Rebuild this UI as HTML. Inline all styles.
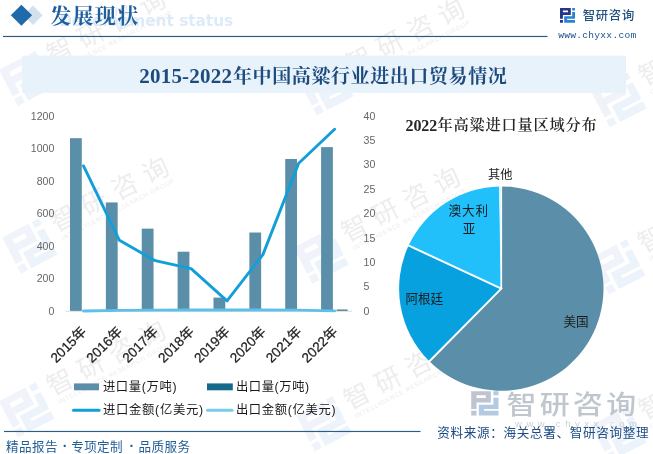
<!DOCTYPE html>
<html lang="zh-CN"><head><meta charset="utf-8"><title>2015-2022年中国高粱行业进出口贸易情况</title>
<style>
html,body{margin:0;padding:0;background:#fff;}
body{width:653px;height:454px;overflow:hidden;position:relative;}
svg{display:block;position:absolute;left:0;top:0;}
.sans{font-family:"Liberation Sans", "Noto Sans CJK SC", sans-serif;}
.serif{font-family:"Liberation Serif", "Noto Serif CJK SC", serif;}
.dj{font-family:"DejaVu Sans", "Liberation Sans", sans-serif;}
</style></head><body>
<svg width="653" height="454" viewBox="0 0 653 454" role="img" aria-label="2015-2022年中国高粱行业进出口贸易情况">
<rect x="0" y="0" width="653" height="454" fill="#ffffff"/>
<g transform="translate(60.0,50.5) rotate(-27.5)">
<g transform="translate(-63,-11) scale(2.75)" fill-rule="evenodd" opacity="1"><path d="M0 0H10.8V6.9H2.9V10.8H0Z M2.9 2.4V4.2H8V2.4Z M0 11.9H2.9V14.8H0Z" fill="#f0f3f9"/><path d="M12.2 0H15V2.4H12.2Z M12.2 4H15V10.8H7.1V11.9H15V14.8H4.2V8.2H12.2Z" fill="#ecf3fb"/></g>
<text class="sans" x="-13" y="9.3" font-size="26" fill="#ededf0" opacity="1" textLength="130" lengthAdjust="spacing">智研咨询</text>
<text class="sans" x="-10.6" y="19.5" font-size="6.3" fill="#ececef" opacity="1" textLength="126" lengthAdjust="spacing">INTELLIGENCE RESEARCH GROUP</text>
</g>
<g transform="translate(63.2,218.2) rotate(-27.5)">
<g transform="translate(-63,-11) scale(2.75)" fill-rule="evenodd" opacity="1"><path d="M0 0H10.8V6.9H2.9V10.8H0Z M2.9 2.4V4.2H8V2.4Z M0 11.9H2.9V14.8H0Z" fill="#f0f3f9"/><path d="M12.2 0H15V2.4H12.2Z M12.2 4H15V10.8H7.1V11.9H15V14.8H4.2V8.2H12.2Z" fill="#ecf3fb"/></g>
<text class="sans" x="-13" y="9.3" font-size="26" fill="#ededf0" opacity="1" textLength="130" lengthAdjust="spacing">智研咨询</text>
<text class="sans" x="-10.6" y="19.5" font-size="6.3" fill="#ececef" opacity="1" textLength="126" lengthAdjust="spacing">INTELLIGENCE RESEARCH GROUP</text>
</g>
<g transform="translate(60.0,382.0) rotate(-27.5)">
<g transform="translate(-63,-11) scale(2.75)" fill-rule="evenodd" opacity="1"><path d="M0 0H10.8V6.9H2.9V10.8H0Z M2.9 2.4V4.2H8V2.4Z M0 11.9H2.9V14.8H0Z" fill="#f0f3f9"/><path d="M12.2 0H15V2.4H12.2Z M12.2 4H15V10.8H7.1V11.9H15V14.8H4.2V8.2H12.2Z" fill="#ecf3fb"/></g>
<text class="sans" x="-13" y="9.3" font-size="26" fill="#ededf0" opacity="1" textLength="130" lengthAdjust="spacing">智研咨询</text>
<text class="sans" x="-10.6" y="19.5" font-size="6.3" fill="#ececef" opacity="1" textLength="126" lengthAdjust="spacing">INTELLIGENCE RESEARCH GROUP</text>
</g>
<g transform="translate(359.0,60.0) rotate(-27.5)">
<g transform="translate(-63,-11) scale(2.75)" fill-rule="evenodd" opacity="1"><path d="M0 0H10.8V6.9H2.9V10.8H0Z M2.9 2.4V4.2H8V2.4Z M0 11.9H2.9V14.8H0Z" fill="#f0f3f9"/><path d="M12.2 0H15V2.4H12.2Z M12.2 4H15V10.8H7.1V11.9H15V14.8H4.2V8.2H12.2Z" fill="#ecf3fb"/></g>
<text class="sans" x="-13" y="9.3" font-size="26" fill="#ededf0" opacity="1" textLength="130" lengthAdjust="spacing">智研咨询</text>
<text class="sans" x="-10.6" y="19.5" font-size="6.3" fill="#ececef" opacity="1" textLength="126" lengthAdjust="spacing">INTELLIGENCE RESEARCH GROUP</text>
</g>
<g transform="translate(354.5,228.2) rotate(-27.5)">
<g transform="translate(-63,-11) scale(2.75)" fill-rule="evenodd" opacity="1"><path d="M0 0H10.8V6.9H2.9V10.8H0Z M2.9 2.4V4.2H8V2.4Z M0 11.9H2.9V14.8H0Z" fill="#f0f3f9"/><path d="M12.2 0H15V2.4H12.2Z M12.2 4H15V10.8H7.1V11.9H15V14.8H4.2V8.2H12.2Z" fill="#ecf3fb"/></g>
<text class="sans" x="-13" y="9.3" font-size="26" fill="#ededf0" opacity="1" textLength="130" lengthAdjust="spacing">智研咨询</text>
<text class="sans" x="-10.6" y="19.5" font-size="6.3" fill="#ececef" opacity="1" textLength="126" lengthAdjust="spacing">INTELLIGENCE RESEARCH GROUP</text>
</g>
<g transform="translate(357.0,396.0) rotate(-27.5)">
<g transform="translate(-63,-11) scale(2.75)" fill-rule="evenodd" opacity="1"><path d="M0 0H10.8V6.9H2.9V10.8H0Z M2.9 2.4V4.2H8V2.4Z M0 11.9H2.9V14.8H0Z" fill="#f0f3f9"/><path d="M12.2 0H15V2.4H12.2Z M12.2 4H15V10.8H7.1V11.9H15V14.8H4.2V8.2H12.2Z" fill="#ecf3fb"/></g>
<text class="sans" x="-13" y="9.3" font-size="26" fill="#ededf0" opacity="1" textLength="130" lengthAdjust="spacing">智研咨询</text>
<text class="sans" x="-10.6" y="19.5" font-size="6.3" fill="#ececef" opacity="1" textLength="126" lengthAdjust="spacing">INTELLIGENCE RESEARCH GROUP</text>
</g>
<g transform="translate(652.0,72.0) rotate(-27.5)">
<g transform="translate(-63,-11) scale(2.75)" fill-rule="evenodd" opacity="1"><path d="M0 0H10.8V6.9H2.9V10.8H0Z M2.9 2.4V4.2H8V2.4Z M0 11.9H2.9V14.8H0Z" fill="#f0f3f9"/><path d="M12.2 0H15V2.4H12.2Z M12.2 4H15V10.8H7.1V11.9H15V14.8H4.2V8.2H12.2Z" fill="#ecf3fb"/></g>
<text class="sans" x="-13" y="9.3" font-size="26" fill="#ededf0" opacity="1" textLength="130" lengthAdjust="spacing">智研咨询</text>
<text class="sans" x="-10.6" y="19.5" font-size="6.3" fill="#ececef" opacity="1" textLength="126" lengthAdjust="spacing">INTELLIGENCE RESEARCH GROUP</text>
</g>
<g transform="translate(651.0,239.0) rotate(-27.5)">
<g transform="translate(-63,-11) scale(2.75)" fill-rule="evenodd" opacity="1"><path d="M0 0H10.8V6.9H2.9V10.8H0Z M2.9 2.4V4.2H8V2.4Z M0 11.9H2.9V14.8H0Z" fill="#f0f3f9"/><path d="M12.2 0H15V2.4H12.2Z M12.2 4H15V10.8H7.1V11.9H15V14.8H4.2V8.2H12.2Z" fill="#ecf3fb"/></g>
<text class="sans" x="-13" y="9.3" font-size="26" fill="#ededf0" opacity="1" textLength="130" lengthAdjust="spacing">智研咨询</text>
<text class="sans" x="-10.6" y="19.5" font-size="6.3" fill="#ececef" opacity="1" textLength="126" lengthAdjust="spacing">INTELLIGENCE RESEARCH GROUP</text>
</g>
<g transform="translate(652.0,406.0) rotate(-27.5)">
<g transform="translate(-63,-11) scale(2.75)" fill-rule="evenodd" opacity="1"><path d="M0 0H10.8V6.9H2.9V10.8H0Z M2.9 2.4V4.2H8V2.4Z M0 11.9H2.9V14.8H0Z" fill="#f0f3f9"/><path d="M12.2 0H15V2.4H12.2Z M12.2 4H15V10.8H7.1V11.9H15V14.8H4.2V8.2H12.2Z" fill="#ecf3fb"/></g>
<text class="sans" x="-13" y="9.3" font-size="26" fill="#ededf0" opacity="1" textLength="130" lengthAdjust="spacing">智研咨询</text>
<text class="sans" x="-10.6" y="19.5" font-size="6.3" fill="#ececef" opacity="1" textLength="126" lengthAdjust="spacing">INTELLIGENCE RESEARCH GROUP</text>
</g>
<text class="dj" x="233.2" y="25.7" font-size="15.3" font-weight="bold" fill="#ddebf8" text-anchor="end">Development status</text>
<polygon points="23.3,15.3 33,5.5 42.6,15.3 33,25.1" fill="#d3e1ef"/>
<polygon points="10.8,15.3 21.4,4.8 32.1,15.3 21.4,25.8" fill="#1f6aa8"/>
<text class="serif" x="50.2" y="22.6" font-size="21" font-weight="bold" fill="#1f5f9e" textLength="88" lengthAdjust="spacing">发展现状</text>
<rect x="3" y="35.9" width="544.5" height="1.15" fill="#2c587f"/>
<g transform="translate(560,8)" fill-rule="evenodd">
<path d="M0 0H10.8V6.9H2.9V10.8H0Z M2.9 2.4V4.2H8V2.4Z M0 11.9H2.9V14.8H0Z" fill="#26348a"/>
<path d="M12.2 0H15V2.4H12.2Z M12.2 4H15V10.8H7.1V11.9H15V14.8H4.2V8.2H12.2Z" fill="#2a82d4"/>
</g>
<text class="sans" x="582.8" y="19.9" font-size="12.3" font-weight="500" fill="#24527f" textLength="51.4" lengthAdjust="spacing">智研咨询</text>
<text x="558.2" y="38.2" font-size="9.6" fill="#1f4f8c" font-family="&quot;Liberation Mono&quot;, monospace" textLength="78" lengthAdjust="spacing">www.chyxx.com</text>
<rect x="22" y="55.6" width="604" height="37.2" fill="#e7f2fb"/>
<text class="serif" font-weight="bold" fill="#1d4b7d"><tspan x="139.2" y="83.4" font-size="21" textLength="92.8" lengthAdjust="spacing">2015-2022</tspan><tspan x="233" y="82.9" font-size="19" font-weight="700" textLength="273.8" lengthAdjust="spacing">年中国高粱行业进出口贸易情况</tspan></text>
<text class="sans" x="48.4" y="314.8" font-size="11.2" fill="#666666" textLength="5.9" lengthAdjust="spacingAndGlyphs">0</text>
<text class="sans" x="36.7" y="282.3" font-size="11.2" fill="#666666" textLength="17.6" lengthAdjust="spacingAndGlyphs">200</text>
<text class="sans" x="36.7" y="249.7" font-size="11.2" fill="#666666" textLength="17.6" lengthAdjust="spacingAndGlyphs">400</text>
<text class="sans" x="36.7" y="217.2" font-size="11.2" fill="#666666" textLength="17.6" lengthAdjust="spacingAndGlyphs">600</text>
<text class="sans" x="36.7" y="184.7" font-size="11.2" fill="#666666" textLength="17.6" lengthAdjust="spacingAndGlyphs">800</text>
<text class="sans" x="30.8" y="152.1" font-size="11.2" fill="#666666" textLength="23.5" lengthAdjust="spacingAndGlyphs">1000</text>
<text class="sans" x="30.8" y="119.6" font-size="11.2" fill="#666666" textLength="23.5" lengthAdjust="spacingAndGlyphs">1200</text>
<text class="sans" x="363.5" y="314.8" font-size="11.2" fill="#666666" textLength="5.9" lengthAdjust="spacingAndGlyphs">0</text>
<text class="sans" x="363.5" y="290.4" font-size="11.2" fill="#666666" textLength="5.9" lengthAdjust="spacingAndGlyphs">5</text>
<text class="sans" x="363.5" y="266.0" font-size="11.2" fill="#666666" textLength="11.8" lengthAdjust="spacingAndGlyphs">10</text>
<text class="sans" x="363.5" y="241.6" font-size="11.2" fill="#666666" textLength="11.8" lengthAdjust="spacingAndGlyphs">15</text>
<text class="sans" x="363.5" y="217.2" font-size="11.2" fill="#666666" textLength="11.8" lengthAdjust="spacingAndGlyphs">20</text>
<text class="sans" x="363.5" y="192.8" font-size="11.2" fill="#666666" textLength="11.8" lengthAdjust="spacingAndGlyphs">25</text>
<text class="sans" x="363.5" y="168.4" font-size="11.2" fill="#666666" textLength="11.8" lengthAdjust="spacingAndGlyphs">30</text>
<text class="sans" x="363.5" y="144.0" font-size="11.2" fill="#666666" textLength="11.8" lengthAdjust="spacingAndGlyphs">35</text>
<text class="sans" x="363.5" y="119.6" font-size="11.2" fill="#666666" textLength="11.8" lengthAdjust="spacingAndGlyphs">40</text>
<rect x="65.5" y="310.7" width="286.5" height="1" fill="#d9d9d9"/>
<rect x="70.00" y="138.17" width="11.8" height="172.73" fill="#5b8fa9"/>
<rect x="105.87" y="202.43" width="11.8" height="108.47" fill="#5b8fa9"/>
<rect x="141.74" y="228.62" width="11.8" height="82.28" fill="#5b8fa9"/>
<rect x="177.61" y="251.71" width="11.8" height="59.19" fill="#5b8fa9"/>
<rect x="213.48" y="297.59" width="11.8" height="13.31" fill="#5b8fa9"/>
<rect x="249.35" y="232.52" width="11.8" height="78.38" fill="#5b8fa9"/>
<rect x="285.22" y="158.99" width="11.8" height="151.91" fill="#5b8fa9"/>
<rect x="321.09" y="147.12" width="11.8" height="163.78" fill="#5b8fa9"/>
<rect x="336.60" y="309.60" width="11" height="1.1" fill="#1f5f7c"/>
<polyline points="83.5,165.9 119.4,240.3 155.2,260.7 191.1,268.7 227.0,300.9 262.9,254.6 298.7,163.2 334.6,129.3" fill="none" stroke="#129fd8" stroke-width="2.9" stroke-linejoin="round" stroke-linecap="round"/>
<polyline points="83.5,311.0 119.4,310.3 155.2,310.1 191.1,310.0 227.0,310.0 262.9,310.0 298.7,310.2 334.6,310.9" fill="none" stroke="#5cc0e9" stroke-width="2.8" stroke-linejoin="round" stroke-linecap="round"/>
<text class="sans" transform="translate(87.2,332.5) rotate(-45)" x="0" y="0" font-size="13.6" fill="#1f1f1f" stroke="#1f1f1f" stroke-width="0.25" text-anchor="end">2015年</text>
<text class="sans" transform="translate(123.1,332.5) rotate(-45)" x="0" y="0" font-size="13.6" fill="#1f1f1f" stroke="#1f1f1f" stroke-width="0.25" text-anchor="end">2016年</text>
<text class="sans" transform="translate(158.9,332.5) rotate(-45)" x="0" y="0" font-size="13.6" fill="#1f1f1f" stroke="#1f1f1f" stroke-width="0.25" text-anchor="end">2017年</text>
<text class="sans" transform="translate(194.8,332.5) rotate(-45)" x="0" y="0" font-size="13.6" fill="#1f1f1f" stroke="#1f1f1f" stroke-width="0.25" text-anchor="end">2018年</text>
<text class="sans" transform="translate(230.7,332.5) rotate(-45)" x="0" y="0" font-size="13.6" fill="#1f1f1f" stroke="#1f1f1f" stroke-width="0.25" text-anchor="end">2019年</text>
<text class="sans" transform="translate(266.6,332.5) rotate(-45)" x="0" y="0" font-size="13.6" fill="#1f1f1f" stroke="#1f1f1f" stroke-width="0.25" text-anchor="end">2020年</text>
<text class="sans" transform="translate(302.4,332.5) rotate(-45)" x="0" y="0" font-size="13.6" fill="#1f1f1f" stroke="#1f1f1f" stroke-width="0.25" text-anchor="end">2021年</text>
<text class="sans" transform="translate(338.3,332.5) rotate(-45)" x="0" y="0" font-size="13.6" fill="#1f1f1f" stroke="#1f1f1f" stroke-width="0.25" text-anchor="end">2022年</text>
<rect x="74" y="383.4" width="25" height="6.9" fill="#5b8fa9"/>
<text class="sans" x="102.9" y="390.6" font-size="12.3" fill="#1a1a1a" textLength="73.6" lengthAdjust="spacing">进口量(万吨)</text>
<rect x="207" y="383.4" width="25.8" height="6.9" fill="#156a8c"/>
<text class="sans" x="235.9" y="390.6" font-size="12.3" fill="#1a1a1a" textLength="73.3" lengthAdjust="spacing">出口量(万吨)</text>
<line x1="73.5" y1="410.2" x2="99" y2="410.2" stroke="#129fd8" stroke-width="3" stroke-linecap="round"/>
<text class="sans" x="102.9" y="414.3" font-size="12.3" fill="#1a1a1a" textLength="100.3" lengthAdjust="spacing">进口金额(亿美元)</text>
<line x1="207.5" y1="410.2" x2="232" y2="410.2" stroke="#7acbec" stroke-width="3" stroke-linecap="round"/>
<text class="sans" x="235.9" y="414.3" font-size="12.3" fill="#1a1a1a" textLength="99.7" lengthAdjust="spacing">出口金额(亿美元)</text>
<text class="serif" font-weight="bold" fill="#262626"><tspan x="405.6" y="130.8" font-size="16" textLength="31.6" lengthAdjust="spacing">2022</tspan><tspan x="437.6" y="130.2" font-size="15.2" font-weight="600" textLength="159" lengthAdjust="spacing">年高粱进口量区域分布</tspan></text>
<path d="M501.30 288.60 L501.30 186.40 A102.20 102.20 0 1 1 429.41 361.24 Z" fill="#5b8fa9"/>
<path d="M501.30 288.60 L429.41 361.24 A102.20 102.20 0 0 1 408.60 245.57 Z" fill="#06a1de"/>
<path d="M501.30 288.60 L408.60 245.57 A102.20 102.20 0 0 1 499.34 186.42 Z" fill="#22c0fa"/>
<path d="M501.30 288.60 L499.34 186.42 A102.20 102.20 0 0 1 501.30 186.40 Z" fill="#c9ecfb"/>
<line x1="501.30" y1="288.60" x2="501.30" y2="185.40" stroke="#ffffff" stroke-width="1.6" stroke-linecap="round"/>
<line x1="501.30" y1="288.60" x2="428.71" y2="361.95" stroke="#ffffff" stroke-width="2.0" stroke-linecap="round"/>
<line x1="501.30" y1="288.60" x2="407.69" y2="245.15" stroke="#ffffff" stroke-width="2.0" stroke-linecap="round"/>
<line x1="501.30" y1="288.60" x2="499.32" y2="185.42" stroke="#ffffff" stroke-width="0.6" stroke-linecap="round"/>
<text class="sans" x="487.9" y="178.6" font-size="12.2" fill="#1a1a1a" textLength="24.6" lengthAdjust="spacing">其他</text>
<text class="sans" x="448.6" y="214.6" font-size="12.6" fill="#1a1a1a" textLength="39.6" lengthAdjust="spacing">澳大利</text>
<text class="sans" x="469" y="233.2" font-size="12.6" fill="#1a1a1a" text-anchor="middle">亚</text>
<text class="sans" x="424.3" y="303" font-size="12.6" fill="#1a1a1a" text-anchor="middle">阿根廷</text>
<text class="sans" x="576" y="326" font-size="12.6" fill="#1a1a1a" text-anchor="middle">美国</text>
<g opacity="0.7">
<g transform="translate(471.2,391.2) scale(1.82,1.64)" fill-rule="evenodd"><path d="M0 0H10.8V6.9H2.9V10.8H0Z M2.9 2.4V4.2H8V2.4Z M0 11.9H2.9V14.8H0Z" fill="#a4acc0"/><path d="M12.2 0H15V2.4H12.2Z M12.2 4H15V10.8H7.1V11.9H15V14.8H4.2V8.2H12.2Z" fill="#94b4d8"/></g>
<text class="sans" transform="translate(506.6,414) scale(1.17,1)" x="0" y="0" font-size="25.6" font-weight="500" fill="#a4aeb9" textLength="110.8" lengthAdjust="spacing">智研咨询</text>
<text class="sans" x="515" y="427.3" font-size="9.5" fill="#b3bcc6" textLength="122" lengthAdjust="spacing">www.chyxx.com</text>
</g>
<rect x="4" y="430.9" width="416.5" height="1.15" fill="#2a5d88"/>
<text class="sans" y="450.6" font-size="12.6" fill="#235f96"><tspan x="6" textLength="51.6" lengthAdjust="spacing">精品报告</tspan><tspan x="62.7" font-weight="bold" font-size="14">·</tspan><tspan x="71.2" textLength="51.4" lengthAdjust="spacing">专项定制</tspan><tspan x="129.4" font-weight="bold" font-size="14">·</tspan><tspan x="138.4" textLength="51.6" lengthAdjust="spacing">品质服务</tspan></text>
<text class="sans" x="437.3" y="436.8" font-size="12.6" fill="#1d4c84" textLength="211.3" lengthAdjust="spacing">资料来源：海关总署、智研咨询整理</text>
</svg></body></html>
